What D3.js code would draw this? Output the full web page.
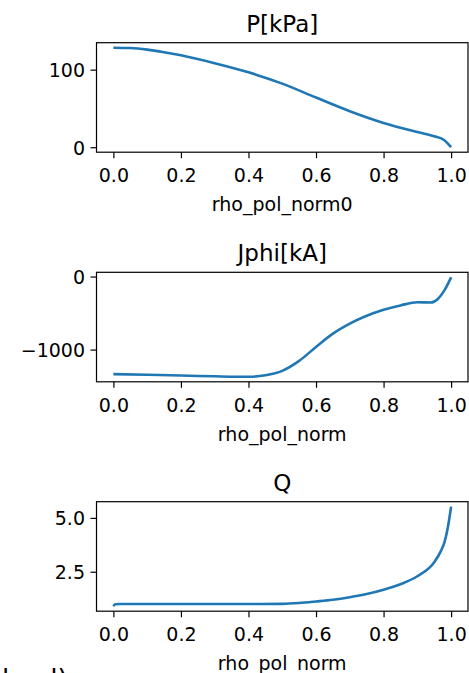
<!DOCTYPE html>
<html>
<head>
<meta charset="utf-8">
<script src="https://cdn.jsdelivr.net/npm/d3@7"></script>
<style>
  html, body { margin: 0; padding: 0; background: #fff; overflow: hidden; }
  svg { display: block; }
  text { font-family: "DejaVu Sans", sans-serif; fill: #000; }
</style>
</head>
<body>
<svg id="chart" width="469" height="673"></svg>
<script>
// ---- data ----
const rhoP = [0.0, 0.05, 0.1, 0.15, 0.2, 0.3, 0.4, 0.5, 0.6, 0.7, 0.8, 0.9, 0.95, 0.98, 1.0];
const pressure = [128.3, 127.8, 125.8, 122.5, 118.5, 108.3, 96.5, 82.0, 64.0, 46.4, 31.3, 19.6, 14.2, 9.0, 0.0];

const rhoJ = [0.0, 0.1, 0.2, 0.3, 0.4, 0.45, 0.5, 0.55, 0.6, 0.65, 0.7, 0.8, 0.85, 0.9, 0.94, 0.96, 0.98, 1.0];
const jphi = [-1336, -1345, -1355, -1366, -1373, -1352, -1291, -1155, -964, -782, -645, -455, -395, -352, -355, -310, -190, -10];

const rhoQ = [0.0, 0.005, 0.02, 0.1, 0.2, 0.3, 0.4, 0.5, 0.55, 0.6, 0.65, 0.7, 0.75, 0.8, 0.85, 0.9, 0.95, 0.97, 0.98, 0.99, 1.0];
const q = [0.9, 0.99, 1.0, 1.0, 1.0, 1.0, 1.0, 1.01, 1.05, 1.12, 1.2, 1.32, 1.47, 1.67, 1.92, 2.29, 2.94, 3.47, 3.85, 4.53, 5.52];

const xTicks = [0.0, 0.2, 0.4, 0.6, 0.8, 1.0];
const titles = ["P[kPa]", "Jphi[kA]", "Q"];
const xLabels = ["rho_pol_norm0", "rho_pol_norm", "rho_pol_norm"];
const yTicksP = [0, 100];
const yTicksJ = [-1000, 0];
const yTicksQ = [2.5, 5.0];
const captionText = "load)";

// ---- layout ----
const svg = d3.select("#chart");
const axLeft = 96.5, axRight = 468;
const axTops = [42.7, 272.3, 501.7];
const axH = 109.5;
const tickFont = 19, titleFont = 23;
const lineColor = "#1f77b4";

const panels = [
  { x: rhoP, y: pressure, ticks: yTicksP, fmt: d3.format("d") },
  { x: rhoJ, y: jphi, ticks: yTicksJ, fmt: d => d < 0 ? "\u2212" + Math.abs(d) : String(d) },
  { x: rhoQ, y: q, ticks: yTicksQ, fmt: d3.format(".1f") }
];

function padDomain(lo, hi) {
  const s = hi - lo;
  return [lo - 0.05 * s, hi + 0.05 * s];
}

panels.forEach((p, i) => {
  const top = axTops[i], bottom = top + axH;
  const xExt = d3.extent(p.x);
  const yExt = d3.extent(p.y);
  const x = d3.scaleLinear().domain(padDomain(xExt[0], xExt[1])).range([axLeft, axRight]);
  const y = d3.scaleLinear().domain(padDomain(yExt[0], yExt[1])).range([bottom, top]);

  const g = svg.append("g");

  // line
  const data = p.x.map((v, k) => [v, p.y[k]]);
  g.append("path")
    .datum(data)
    .attr("fill", "none")
    .attr("stroke", lineColor)
    .attr("stroke-width", 2.6)
    .attr("stroke-linejoin", "round")
    .attr("stroke-linecap", "butt")
    .attr("d", d3.line().x(d => x(d[0])).y(d => y(d[1])).curve(d3.curveMonotoneX));

  // axes
  const xAxis = d3.axisBottom(x).tickValues(xTicks).tickFormat(d3.format(".1f")).tickSize(6).tickPadding(10.5);
  const yAxis = d3.axisLeft(y).tickValues(p.ticks).tickFormat(p.fmt).tickSize(6).tickPadding(5.5);

  const gx = g.append("g").attr("transform", `translate(0,${bottom})`).call(xAxis);
  const gy = g.append("g").attr("transform", `translate(${axLeft},0)`).call(yAxis);
  [gx, gy].forEach(a => {
    a.select(".domain").remove();
    a.selectAll(".tick line").attr("stroke", "#000").attr("stroke-width", 1.2);
    a.selectAll(".tick text").attr("font-size", tickFont).attr("font-family", "DejaVu Sans").attr("fill", "#000");
  });
  gy.selectAll(".tick text").attr("dy", "0.36em");

  // frame
  g.append("rect")
    .attr("x", axLeft).attr("y", top)
    .attr("width", axRight - axLeft).attr("height", axH)
    .attr("fill", "none").attr("stroke", "#000").attr("stroke-width", 1.2);

  // title
  g.append("text")
    .attr("x", (axLeft + axRight) / 2)
    .attr("y", top - 11)
    .attr("text-anchor", "middle")
    .attr("font-size", titleFont)
    .text(titles[i]);

  // x label
  g.append("text")
    .attr("x", (axLeft + axRight) / 2)
    .attr("y", bottom + 59)
    .attr("text-anchor", "middle")
    .attr("font-size", tickFont)
    .text(xLabels[i]);
});

// clipped caption at bottom-left
svg.append("text")
  .attr("x", 2)
  .attr("y", 688)
  .attr("font-size", 26)
  .text(captionText);
</script>
</body>
</html>
